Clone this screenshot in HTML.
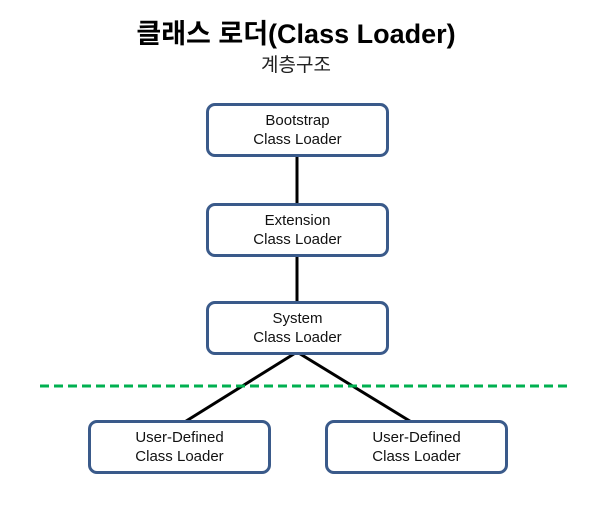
<!DOCTYPE html>
<html><head><meta charset="utf-8"><style>
body{margin:0;width:606px;height:518px;background:#fff;position:relative;overflow:hidden;font-family:"Liberation Sans","Noto Sans CJK KR",sans-serif}
.t{position:absolute;left:0;width:592px;text-align:center}
.b{position:absolute;width:177px;height:48px;border:3px solid #3a5a8a;border-radius:9px;background:#fff;box-sizing:content-box;text-align:center;font-size:15px;line-height:19px;color:#111}
.b span{display:block;padding-top:5px}
</style></head><body>
<svg width="606" height="518" style="position:absolute;left:0;top:0">
<line x1="297" y1="156" x2="297" y2="203" stroke="#000" stroke-width="3"/>
<line x1="297" y1="255" x2="297" y2="301" stroke="#000" stroke-width="3"/>
<line x1="297" y1="352" x2="183" y2="423" stroke="#000" stroke-width="3"/>
<line x1="297" y1="352" x2="413" y2="423" stroke="#000" stroke-width="3"/>
<line x1="40" y1="386" x2="570" y2="386" stroke="#00b050" stroke-width="3" stroke-dasharray="9,5"/>
</svg>
<div class="t" style="top:17px;font-size:27px;font-weight:bold;line-height:34px">클래스 로더(Class Loader)</div>
<div class="t" style="top:54px;font-size:19px;line-height:24px;color:#222">계층구조</div>
<div class="b" style="left:206px;top:103px"><span>Bootstrap<br>Class Loader</span></div>
<div class="b" style="left:206px;top:203px"><span>Extension<br>Class Loader</span></div>
<div class="b" style="left:206px;top:301px"><span>System<br>Class Loader</span></div>
<div class="b" style="left:88px;top:420px"><span>User-Defined<br>Class Loader</span></div>
<div class="b" style="left:325px;top:420px"><span>User-Defined<br>Class Loader</span></div>
</body></html>
